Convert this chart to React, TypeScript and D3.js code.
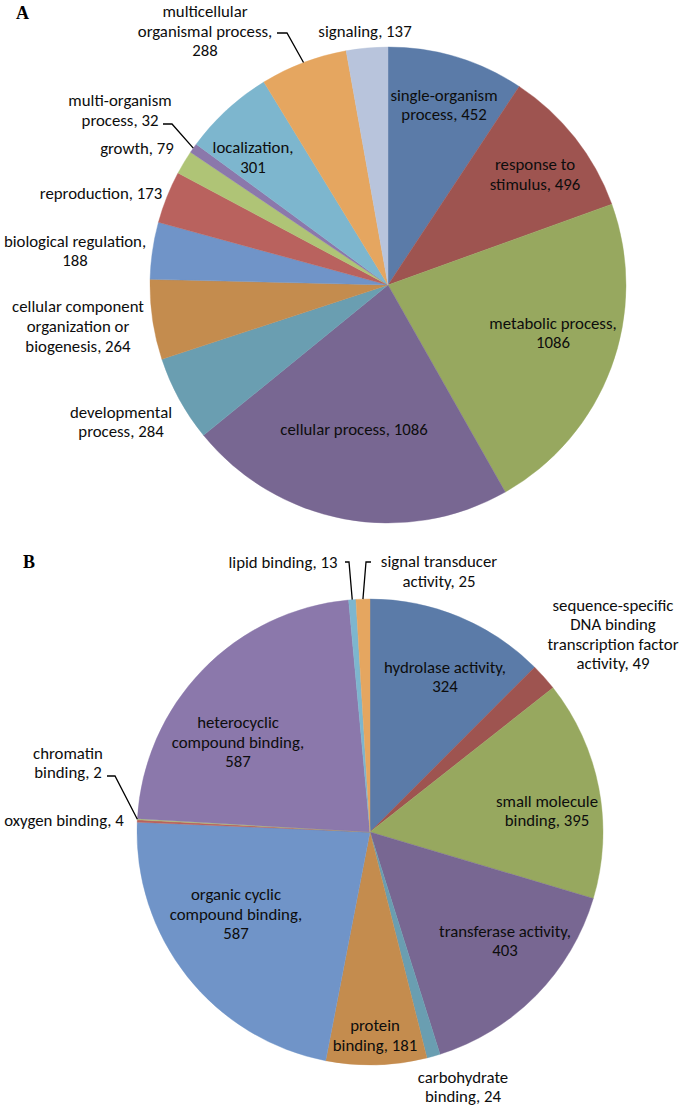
import React from "react";
import * as d3 from "d3";

// ---- Data: panel A (biological process) ----
const catsA = [
  "single-organism process",
  "response to stimulus",
  "metabolic process",
  "cellular process",
  "developmental process",
  "cellular component organization or biogenesis",
  "biological regulation",
  "reproduction",
  "growth",
  "multi-organism process",
  "localization",
  "multicellular organismal process",
  "signaling",
];
const valsA = [452, 496, 1086, 1086, 284, 264, 188, 173, 79, 32, 301, 288, 137];

// ---- Data: panel B (molecular function) ----
const catsB = [
  "hydrolase activity",
  "sequence-specific DNA binding transcription factor activity",
  "small molecule binding",
  "transferase activity",
  "carbohydrate binding",
  "protein binding",
  "organic cyclic compound binding",
  "oxygen binding",
  "chromatin binding",
  "heterocyclic compound binding",
  "lipid binding",
  "signal transducer activity",
];
const valsB = [324, 49, 395, 403, 24, 181, 587, 4, 2, 587, 13, 25];

// ---- Styles / layout ----
const palette = [
  "#5b7ba8", "#9e5450", "#97a85f", "#786792", "#6a9eb1", "#c48c4e",
  "#7094c8", "#b9625e", "#afc476", "#8b78ab", "#7db6ce", "#e5a660", "#b8c4dc",
];

// label text lines (display wrapping) and label block centre offsets from pie centre
const linesA = [
  ["single-organism", "process, 452"],
  ["response to", "stimulus, 496"],
  ["metabolic process,", "1086"],
  ["cellular process, 1086"],
  ["developmental", "process, 284"],
  ["cellular component", "organization or", "biogenesis, 264"],
  ["biological regulation,", "188"],
  ["reproduction, 173"],
  ["growth, 79"],
  ["multi-organism", "process, 32"],
  ["localization,", "301"],
  ["multicellular", "organismal process,", "288"],
  ["signaling, 137"],
];
const posA: [number, number][] = [
  [56, -180], [147, -110.5], [165, 48], [-34, 144], [-267, 137], [-310, 41.5],
  [-313, -34], [-287, -92], [-251, -137], [-268, -174.5], [-135, -127.5],
  [-183, -254], [-23, -254],
];
const linesB = [
  ["hydrolase activity,", "324"],
  ["sequence-specific", "DNA binding", "transcription factor", "activity, 49"],
  ["small molecule", "binding, 395"],
  ["transferase activity,", "403"],
  ["carbohydrate", "binding, 24"],
  ["protein", "binding, 181"],
  ["organic cyclic", "compound binding,", "587"],
  ["oxygen binding, 4"],
  ["chromatin", "binding, 2"],
  ["heterocyclic", "compound binding,", "587"],
  ["lipid binding, 13"],
  ["signal transducer", "activity, 25"],
];
const posB: [number, number][] = [
  [75, -155], [243, -197.5], [177, -21], [135, 109], [93, 255], [5, 203.5],
  [-134, 82], [-306, -12], [-302, -69], [-132, -90], [-87, -270], [69, -260.5],
];

// leader lines: index of slice, start point of the elbow (relative to centre), elbow point
const leadersA = [
  { i: 9, from: [-225, -161], elbow: [-216, -161] },
  { i: 11, from: [-111, -252], elbow: [-101, -252] },
];
const leadersB = [
  { i: 8, from: [-263, -56], elbow: [-255, -56] },
  { i: 10, from: [-25, -270], elbow: [-21, -270] },
  { i: 11, from: [1, -270], elbow: [-4, -270] },
];

const FONT = "Carlito, Calibri, Lato, 'Open Sans', sans-serif";
const FS = 16.8;
const LH = 19.6;

function Pie({ cx, cy, r, values, lines, pos, leaders }: any) {
  const pie = d3.pie<number>().sort(null).value((d) => d)(values);
  const arc = d3.arc<d3.PieArcDatum<number>>().innerRadius(0).outerRadius(r);
  return (
    <g transform={`translate(${cx},${cy})`}>
      {pie.map((p, i) => (
        <path key={i} d={arc(p) || ""} fill={palette[i]} stroke={palette[i]} strokeWidth={0.4} />
      ))}
      {leaders.map((l: any, k: number) => {
        const p = pie[l.i];
        const mid = (p.startAngle + p.endAngle) / 2;
        const ex = Math.sin(mid) * r;
        const ey = -Math.cos(mid) * r;
        return (
          <polyline
            key={k}
            points={`${l.from[0]},${l.from[1]} ${l.elbow[0]},${l.elbow[1]} ${ex},${ey}`}
            fill="none"
            stroke="#000"
            strokeWidth={1.3}
          />
        );
      })}
      {lines.map((ls: string[], i: number) => {
        const [x, y] = pos[i];
        const y0 = y - ((ls.length - 1) * LH) / 2;
        return (
          <text
            key={i}
            x={x}
            textAnchor="middle"
            fontFamily={FONT}
            fontSize={FS}
            fill="#0d0d0d"
          >
            {ls.map((t, j) => (
              <tspan key={j} x={x} y={y0 + j * LH} dominantBaseline="central">
                {t}
              </tspan>
            ))}
          </text>
        );
      })}
    </g>
  );
}

export default function App() {
  return (
    <svg
      width={682}
      height={1109}
      style={{ position: "absolute", left: 0, top: 0, background: "#fff" }}
    >
      <rect width={682} height={1109} fill="#fff" />
      <text x={16} y={19} fontFamily="'Times New Roman', 'Liberation Serif', serif" fontWeight="bold" fontSize={18}>
        A
      </text>
      <text x={23} y={568} fontFamily="'Times New Roman', 'Liberation Serif', serif" fontWeight="bold" fontSize={18}>
        B
      </text>
      <Pie cx={388} cy={285} r={238} values={valsA} lines={linesA} pos={posA} leaders={leadersA} />
      <Pie cx={370} cy={832} r={233} values={valsB} lines={linesB} pos={posB} leaders={leadersB} />
    </svg>
  );
}
